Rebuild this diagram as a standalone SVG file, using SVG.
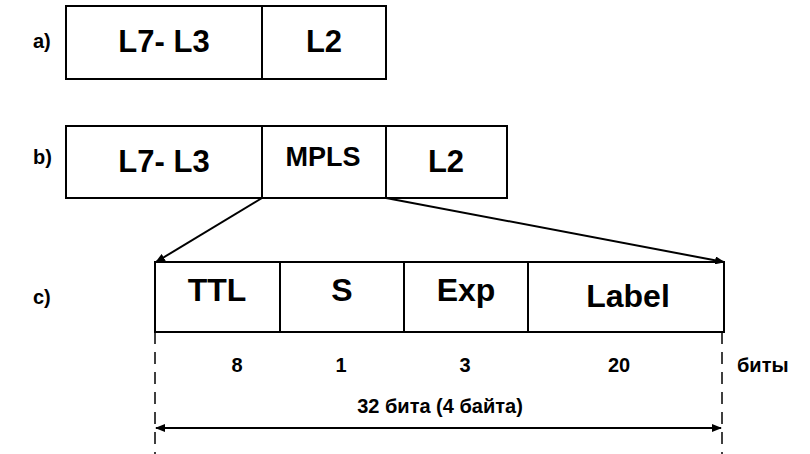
<svg xmlns="http://www.w3.org/2000/svg" width="810" height="454" viewBox="0 0 810 454">
<defs>
<marker id="ah" markerWidth="10" markerHeight="8" refX="9" refY="4" orient="auto" markerUnits="userSpaceOnUse">
<path d="M0,0 L10,4 L0,8 Z" fill="#000"/>
</marker>
<marker id="ahs" markerWidth="10" markerHeight="8" refX="1" refY="4" orient="auto" markerUnits="userSpaceOnUse">
<path d="M10,0 L0,4 L10,8 Z" fill="#000"/>
</marker>
</defs>
<style>
.box{fill:#fff;stroke:#000;stroke-width:2}
.ln{stroke:#000;stroke-width:2;fill:none}
.dash{stroke:#000;stroke-width:1.5;stroke-dasharray:12,8;fill:none}
.t{font-family:"Liberation Sans",Arial,sans-serif;font-weight:bold;fill:#000;text-anchor:middle}
.big{font-size:31px}
.mpls{font-size:27px}
.mid{font-size:32px}
.sm{font-size:20px}
.lab{font-size:20px;text-anchor:start}
</style>
<g id="row-a">
<text class="t lab" x="33" y="48">a)</text>
<rect class="box" x="66" y="6" width="320" height="73"/>
<line class="ln" x1="262" y1="6" x2="262" y2="79"/>
<text class="t big" x="164" y="52">L7- L3</text>
<text class="t big" x="324" y="52">L2</text>
</g>
<g id="row-b">
<text class="t lab" x="33" y="164">b)</text>
<rect class="box" x="66" y="126" width="441" height="72"/>
<line class="ln" x1="262" y1="126" x2="262" y2="198"/>
<line class="ln" x1="386" y1="126" x2="386" y2="198"/>
<text class="t big" x="164" y="172">L7- L3</text>
<text class="t mpls" x="323" y="166">MPLS</text>
<text class="t big" x="446" y="172">L2</text>
</g>
<g id="row-c">
<text class="t lab" x="33" y="304">c)</text>
<rect class="box" x="155" y="262" width="569" height="70"/>
<line class="ln" x1="280" y1="262" x2="280" y2="332"/>
<line class="ln" x1="404" y1="262" x2="404" y2="332"/>
<line class="ln" x1="528" y1="262" x2="528" y2="332"/>
<text class="t mid" x="217" y="301">TTL</text>
<text class="t mid" x="342" y="301">S</text>
<text class="t mid" x="466" y="301">Exp</text>
<text class="t mid" x="628" y="307">Label</text>
</g>
<g id="bits">
<text class="t sm" x="237" y="372">8</text>
<text class="t sm" x="341" y="372">1</text>
<text class="t sm" x="465" y="372">3</text>
<text class="t sm" x="619" y="372">20</text>
<text class="t sm" x="737" y="372" style="text-anchor:start">биты</text>
<text class="t sm" x="440" y="413">32 бита (4 байта)</text>
</g>
<g id="connectors">
<line class="ln" x1="262" y1="198" x2="156" y2="262" marker-end="url(#ah)"/>
<line class="ln" x1="386" y1="198" x2="724" y2="262" marker-end="url(#ah)"/>
<line class="dash" x1="155" y1="332" x2="155" y2="454"/>
<line class="dash" x1="722" y1="332" x2="722" y2="454"/>
<line class="ln" x1="156" y1="428" x2="721" y2="428" marker-start="url(#ahs)" marker-end="url(#ah)"/>
</g>
</svg>
